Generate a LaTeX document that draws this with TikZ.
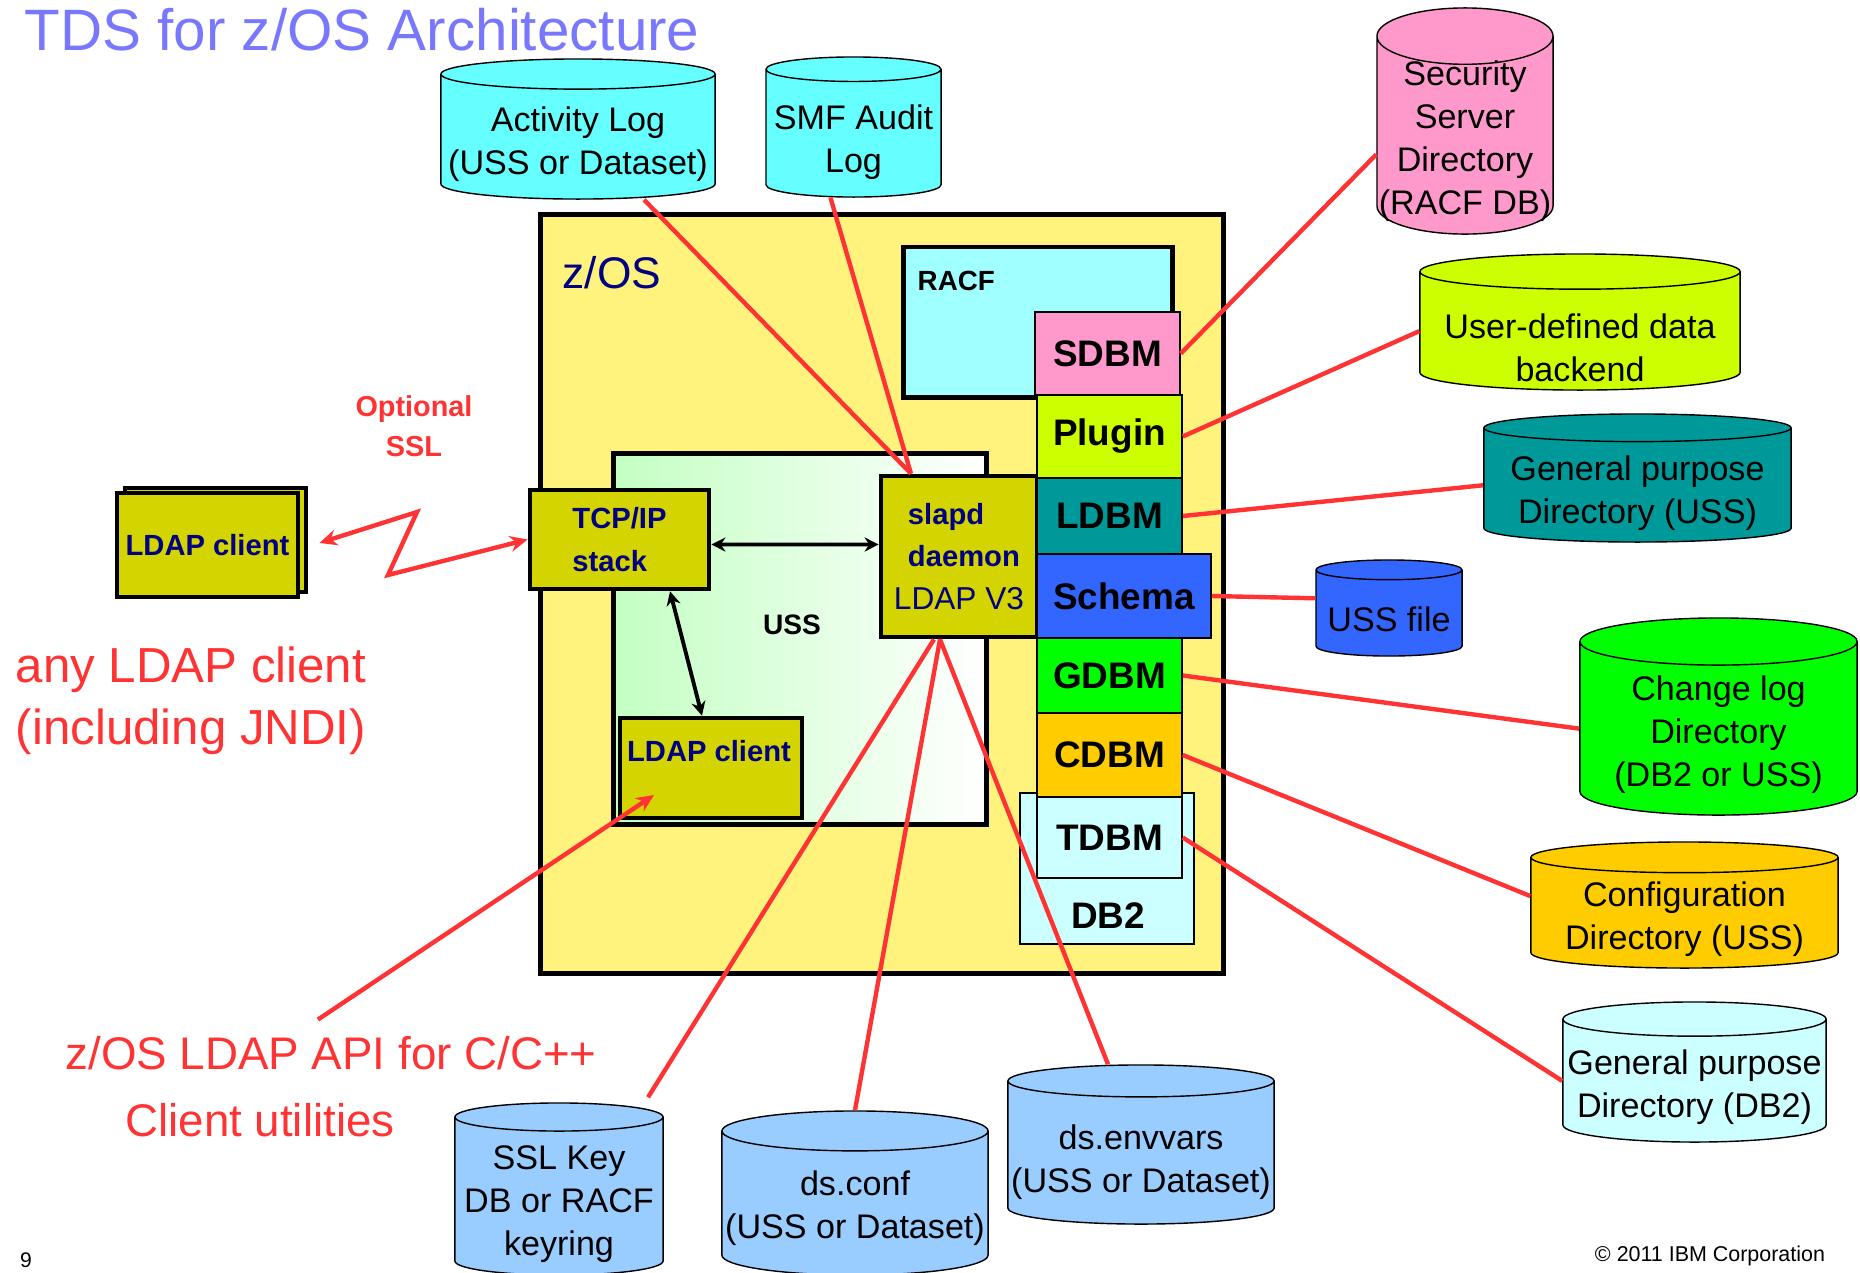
\documentclass[tikz,border=0pt]{standalone}
\usepackage{fontspec}
\setmainfont{Liberation Sans}
\usetikzlibrary{shapes.geometric,arrows.meta,positioning}

\definecolor{ibmred}{RGB}{255,51,51}
\definecolor{ibmnavy}{RGB}{0,0,128}
\definecolor{titleblue}{RGB}{120,120,255}
\definecolor{olivebox}{RGB}{212,212,0}
\definecolor{zosfill}{RGB}{255,242,125}
\definecolor{racfcyan}{RGB}{160,255,255}
\definecolor{ussgreen}{RGB}{195,255,195}
\definecolor{logcyan}{RGB}{102,255,255}
\definecolor{sdbmpink}{RGB}{255,153,204}
\definecolor{pluginlime}{RGB}{204,255,0}
\definecolor{ldbmteal}{RGB}{0,153,153}
\definecolor{schemablue}{RGB}{51,102,255}
\definecolor{gdbmgreen}{RGB}{0,255,0}
\definecolor{cdbmorange}{RGB}{255,204,0}
\definecolor{db2cyan}{RGB}{204,255,255}
\definecolor{cfgblue}{RGB}{153,204,255}

\tikzset{
  every node/.style={inner sep=0pt},
  thickbox/.style={draw, line width=1.4pt},
  navybox/.style={draw, line width=1.3pt, fill=olivebox, text=ibmnavy,
    font=\fontsize{8.3pt}{12.2pt}\selectfont\bfseries},
  backend/.style={draw, thin, minimum width=1.45cm,
    font=\fontsize{10.5pt}{12pt}\selectfont\bfseries},
  db/.style={cylinder, shape border rotate=90, draw, thin, aspect=#1,
    cylinder uses custom fill, anchor=shape center},
  dbfill/.style={cylinder body fill=#1, cylinder end fill=#1},
  dbtext/.style={align=center, font=\fontsize{9.7pt}{12.2pt}\selectfont},
  redline/.style={draw=ibmred, line width=1.25pt},
  redarrow/.style={redline, -{Stealth[length=5pt,width=4.5pt]}},
  redboth/.style={redline, {Stealth[length=5pt,width=4.5pt]}-{Stealth[length=5pt,width=4.5pt]}},
  blackboth/.style={draw, line width=1.1pt, {Stealth[length=4pt,width=4pt]}-{Stealth[length=4pt,width=4pt]}},
  redtext/.style={text=ibmred, font=\fontsize{13pt}{15pt}\selectfont},
}

\begin{document}
\begin{tikzpicture}[x=0.01cm, y=-0.01cm]
\useasboundingbox (0,0) rectangle (1860,1272);

\node[anchor=base west, text=titleblue, font=\fontsize{16.6pt}{20pt}\selectfont]
  (title) at (24,50) {TDS for z/OS Architecture};

% z/OS frame
\node[thickbox, fill=zosfill, minimum width=6.82cm, minimum height=7.58cm] (zos) at (882,594) {};
\node[anchor=west, text=ibmnavy, font=\fontsize{12.6pt}{15pt}\selectfont] (zoslbl) at (562,273) {z/OS};
\node[thickbox, fill=racfcyan, minimum width=2.68cm, minimum height=1.5cm] (racf) at (1038,322) {};
\node[anchor=west, font=\fontsize{7.9pt}{10pt}\selectfont\bfseries] (racflbl) at (917,281) {RACF};
\node[thickbox, left color=ussgreen, right color=white, minimum width=3.72cm, minimum height=3.7cm] (uss) at (800,639) {};
\node[font=\fontsize{8pt}{10pt}\selectfont\bfseries] (usslbl) at (792,625) {USS};

\node[navybox, align=left, minimum width=1.79cm, minimum height=0.99cm] (tcpip) at (619.5,539.5) {TCP/IP\\stack};
\node[navybox, align=left, minimum width=1.56cm, minimum height=1.61cm] (slapd) at (959,556.5)
  {\hspace*{4pt}slapd\\\hspace*{4pt}daemon\\\fontsize{9pt}{11.7pt}\selectfont\mdseries LDAP V3};
\node[navybox, minimum width=1.82cm, minimum height=1.0cm] (client) at (711,768) {};
\node[text=ibmnavy, font=\fontsize{8.3pt}{10pt}\selectfont\bfseries] (clientlbl) at (709,751) {LDAP client};

% backends
\node[draw, thin, fill=db2cyan, minimum width=1.74cm, minimum height=1.51cm] (db2) at (1107,868.5) {};
\node[backend, fill=sdbmpink, minimum height=0.83cm] (sdbm) at (1107.5,353.5) {SDBM};
\node[backend, fill=pluginlime, minimum height=0.83cm] (plugin) at (1109.5,436.5) {Plugin};
\node[backend, fill=ldbmteal, minimum height=0.76cm] (ldbm) at (1109.5,516) {LDBM};
\node[backend, fill=schemablue, minimum width=1.74cm, minimum height=0.84cm] (schema) at (1124,596) {Schema};
\node[backend, fill=gdbmgreen, minimum height=0.75cm] (gdbm) at (1109.5,675.5) {GDBM};
\node[backend, fill=cdbmorange, minimum height=0.84cm] (cdbm) at (1109.5,755) {CDBM};
\node[backend, fill=db2cyan, minimum height=0.81cm] (tdbm) at (1109.5,837.5) {TDBM};
\node[font=\fontsize{10.5pt}{12pt}\selectfont\bfseries] (db2lbl) at (1108,916) {DB2};

% remote client
\node[navybox, minimum width=1.81cm, minimum height=1.04cm] (ldapclback) at (215.5,540) {};
\node[navybox, minimum width=1.81cm, minimum height=1.04cm] (ldapcl) at (207.5,545) {LDAP client};
\node[align=center, text=ibmred, font=\fontsize{8.2pt}{11.4pt}\selectfont\bfseries] (ssl) at (414,426) {Optional\\SSL};
\node[redtext, align=left, font=\fontsize{14pt}{17.6pt}\selectfont] (anyclient) at (191,701) {any LDAP client\\(including JNDI)};
\node[redtext] (api) at (331,1053) {z/OS LDAP API for C/C++};
\node[redtext] (utils) at (260,1120) {Client utilities};

% data stores
\node[db=0.11, dbfill=logcyan, minimum height=1.4cm] (actlog) at (578,129) {\rule{2.74cm}{0pt}};
\node[db=0.14, dbfill=logcyan, minimum height=1.4cm] (smflog) at (853.5,127) {\rule{1.75cm}{0pt}};
\node[db=0.32, dbfill=sdbmpink, minimum height=2.26cm] (secdir) at (1465,121) {\rule{1.76cm}{0pt}};
\node[db=0.11, dbfill=pluginlime, minimum height=1.36cm] (userdef) at (1580,322) {\rule{3.2cm}{0pt}};
\node[db=0.09, dbfill=ldbmteal, minimum height=1.28cm] (gpuss) at (1637.5,478) {\rule{3.07cm}{0pt}};
\node[db=0.135, dbfill=schemablue, minimum height=0.96cm] (ussfile) at (1389,608) {\rule{1.46cm}{0pt}};
\node[db=0.17, dbfill=gdbmgreen, minimum height=1.97cm] (chglog) at (1718.5,716.5) {\rule{2.77cm}{0pt}};
\node[db=0.1, dbfill=cdbmorange, minimum height=1.26cm] (config) at (1684.5,905) {\rule{3.07cm}{0pt}};
\node[db=0.13, dbfill=db2cyan, minimum height=1.4cm] (gpdb2) at (1694.5,1072) {\rule{2.63cm}{0pt}};
\node[db=0.135, dbfill=cfgblue, minimum height=1.72cm] (sslkey) at (559,1189) {\rule{2.08cm}{0pt}};
\node[db=0.15, dbfill=cfgblue, minimum height=1.64cm] (dsconf) at (855,1193) {\rule{2.66cm}{0pt}};
\node[db=0.12, dbfill=cfgblue, minimum height=1.59cm] (dsenv) at (1141,1144.5) {\rule{2.66cm}{0pt}};

\node[dbtext] (actlogtxt) at (578,144) {Activity Log\\(USS or Dataset)};
\node[dbtext] (smflogtxt) at (853.5,142) {SMF Audit\\Log};
\node[dbtext] (secdirtxt) at (1465,141) {Security\\Server\\Directory\\(RACF DB)};
\node[dbtext] (userdeftxt) at (1580,348) {User-defined data\\backend};
\node[dbtext] (gpusstxt) at (1637.5,493) {General purpose\\Directory (USS)};
\node[dbtext] (ussfiletxt) at (1389,619) {USS file};
\node[dbtext] (chglogtxt) at (1718.5,735) {Change log\\Directory\\(DB2 or USS)};
\node[dbtext] (configtxt) at (1684.5,919) {Configuration\\Directory (USS)};
\node[dbtext] (gpdb2txt) at (1694.5,1087) {General purpose\\Directory (DB2)};
\node[dbtext] (sslkeytxt) at (559,1204) {SSL Key\\DB or RACF\\keyring};
\node[dbtext] (dsconftxt) at (855,1208) {ds.conf\\(USS or Dataset)};
\node[dbtext] (dsenvtxt) at (1141,1162) {ds.envvars\\(USS or Dataset)};

\node[font=\fontsize{6pt}{7pt}\selectfont] (pagenum) at (26,1260) {9};
\node[font=\fontsize{6.1pt}{7pt}\selectfont] (copyr) at (1710,1256) {\textcopyright{} 2011 IBM Corporation};

% connectors
\coordinate (zz1) at (417,512);
\coordinate (zz2) at (388,575);
\coordinate (apitip) at (654,795);
\draw[redboth, shorten <=0.2cm] ([yshift=-0.04cm]ldapcl.east) -- (zz1) -- (zz2) -- (tcpip.west);
\draw[blackboth] ([yshift=-0.05cm]tcpip.east) -- ([yshift=0.12cm]slapd.west);
\draw[blackboth] ([xshift=0.505cm]tcpip.south) -- ([xshift=-0.09cm]client.north);
\draw[redarrow] ([xshift=-0.13cm,yshift=0.16cm]api.north) -- (apitip);

\draw[redline] ([xshift=0.66cm]actlog.south) -- ([xshift=-0.48cm]slapd.north);
\draw[redline] ([xshift=-0.23cm]smflog.south) -- ([xshift=-0.48cm]slapd.north);
\draw[redline] ([xshift=-0.25cm]slapd.south) -- ([xshift=0.89cm,yshift=0.05cm]sslkey.north);
\draw[redline] ([xshift=-0.19cm]slapd.south) -- (dsconf.north);
\draw[redline] ([xshift=-0.19cm]slapd.south) -- ([xshift=-0.33cm]dsenv.north);

\draw[redline] (sdbm.east) -- ([yshift=-0.19cm]secdir.west);
\draw[redline] (plugin.east) -- (userdef.west);
\draw[redline] (ldbm.east) -- (gpuss.west);
\draw[redline] (schema.east) -- ([yshift=0.15cm]ussfile.west);
\draw[redline] (gdbm.east) -- (chglog.west);
\draw[redline] (cdbm.east) -- ([yshift=0.17cm]config.west);
\draw[redline] (tdbm.east) -- (gpdb2.west);
\end{tikzpicture}
\end{document}
